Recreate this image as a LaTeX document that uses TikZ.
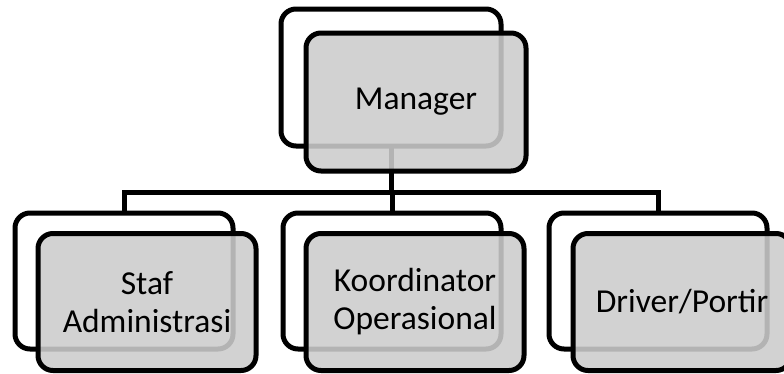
\documentclass[tikz,border=0pt]{standalone}
\usepackage{fontspec}
\setmainfont{Carlito}
\begin{document}
\begin{tikzpicture}[x=1pt,y=-1pt,
  backbox/.style={draw=black, line width=5pt, rounded corners=15pt, fill=white,
    minimum width=218pt, minimum height=136pt, inner sep=0pt, outer sep=0pt},
  frontbox/.style={draw=black, line width=5pt, rounded corners=15pt, fill=black!20,
    fill opacity=0.88, text opacity=1, minimum width=218pt, minimum height=137pt,
    inner sep=0pt, outer sep=0pt, align=center,
    font=\fontsize{33.5pt}{38pt}\selectfont},
  link/.style={draw=black, line width=5pt}]
\useasboundingbox (0,0) rectangle (784,373);
% back boxes
\node[backbox, minimum width=220pt, minimum height=137pt] (mb) at (391,77.5) {};
\node[backbox] (b1) at (124,281) {};
\node[backbox] (b2) at (392,281) {};
\node[backbox] (b3) at (658,281) {};
% connectors
\coordinate (bus) at (391,192);
\draw[link] (mb.south) -- (mb.south |- bus) -| (b1.north);
\draw[link] (mb.south |- bus) -| (b2.north);
\draw[link] (mb.south |- bus) -| (b3.north);
% front boxes
\node[frontbox, minimum width=220pt, minimum height=138pt] (mf) at (416,102) {Manager};
\node[frontbox] (f1) at (147,302) {Staf\\Administrasi};
\node[frontbox] (f2) at (415,302) {Koordinator\\Operasional};
\node[frontbox] (f3) at (682,302) {Driver/Portir};
\end{tikzpicture}
\end{document}
